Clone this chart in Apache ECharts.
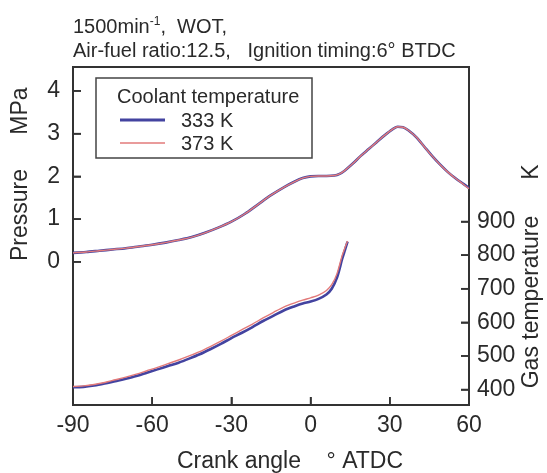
<!DOCTYPE html>
<html>
<head>
<meta charset="utf-8">
<script src="https://cdn.jsdelivr.net/npm/echarts@6/dist/echarts.min.js"></script>
<style>html,body{margin:0;padding:0;background:#fff;}#c{width:547px;height:473px;}</style>
</head>
<body>
<div id="c"></div>
<script>
// Crank angle (deg ATDC) for pressure curves
const pAngles = [-90,-85,-80,-75,-70,-65,-60,-55,-50,-45,-40,-35,-30,-25,-20,-15,-10,-6,-3,0,3,6,9,11,13,16,19,22,25,28,31,33,35,37,40,43,46,49,52,55,58,60];
// Pressure, MPa
const p333 = [0.21,0.23,0.26,0.29,0.32,0.36,0.40,0.45,0.51,0.58,0.68,0.80,0.94,1.12,1.34,1.56,1.75,1.88,1.96,2.00,2.01,2.01,2.02,2.06,2.14,2.30,2.48,2.64,2.80,2.96,3.10,3.16,3.15,3.08,2.92,2.70,2.48,2.28,2.10,1.95,1.82,1.73];
const p373 = [0.21,0.23,0.26,0.29,0.32,0.36,0.40,0.45,0.51,0.58,0.68,0.80,0.94,1.12,1.34,1.56,1.75,1.88,1.96,2.00,2.01,2.01,2.02,2.06,2.14,2.30,2.48,2.64,2.80,2.96,3.10,3.16,3.15,3.08,2.92,2.70,2.48,2.28,2.10,1.95,1.81,1.71];
// Crank angle for gas temperature curves
const tAngles = [-90,-86,-82,-78,-74,-70,-66,-62,-58,-54,-50,-46,-42,-38,-34,-30,-26,-22,-18,-14,-10,-6,-3,0,3,6,8,10,12,13,14];
// Gas temperature, K
const t333 = [407,408,412,418,425,432,440,450,460,470,480,492,505,520,536,553,569,586,604,620,636,648,656,662,670,683,700,733,790,815,840];
const t373 = [409,411,415,421,429,437,446,456,466,477,488,500,513,528,544,561,578,595,613,630,646,658,666,673,681,695,712,745,800,822,842];
// Tick labels
const xTicks = [-90,-60,-30,0,30,60];
const pTicks = [0,1,2,3,4];
const tTicks = [400,500,600,700,800,900];
// Axis ranges
const xRange = [-90, 60];
const pRange = [-3.35, 4.56];
const tRange = [354, 1360];

const FONT = 'Liberation Sans, Arial, sans-serif';
const TXT = '#2a2a2a';
const BLUE = '#4343a0';
const PINK = '#e27a7a';
const AX = '#333333';
const TICK = 8;

const pair = (xs, ys) => xs.map((x, i) => [x, ys[i]]);

function tickSeries(yAxisIndex, data, dx, dy) {
  return {
    type: 'custom', yAxisIndex: yAxisIndex, silent: true, clip: false, z: 5,
    data: data,
    renderItem: function (params, api) {
      const p = api.coord([api.value(0), api.value(1)]);
      return { type: 'line', shape: { x1: p[0], y1: p[1], x2: p[0] + dx, y2: p[1] + dy }, style: { stroke: AX, lineWidth: 1.6 } };
    }
  };
}

const chart = echarts.init(document.getElementById('c'));
chart.setOption({
  animation: false,
  title: {
    text: '1500min{sup|-1},  WOT,\nAir-fuel ratio:12.5,   Ignition timing:6° BTDC',
    left: 68, top: 10,
    textStyle: {
      fontFamily: FONT, fontSize: 20, fontWeight: 'normal', color: TXT, lineHeight: 24,
      rich: { sup: { fontFamily: FONT, fontSize: 12, color: TXT, padding: [0, 0, 10, 0] } }
    }
  },
  grid: { left: 73, right: 78, top: 67, bottom: 68, show: true, borderColor: AX, borderWidth: 2 },
  xAxis: {
    type: 'value', min: xRange[0], max: xRange[1], interval: 30,
    axisLine: { onZero: false, lineStyle: { color: AX, width: 2 } },
    axisTick: { show: true, inside: true, length: TICK, lineStyle: { color: AX, width: 1.6 } },
    axisLabel: { fontFamily: FONT, fontSize: 23, color: TXT, margin: 9 },
    splitLine: { show: false }
  },
  yAxis: [
    {
      type: 'value', min: pRange[0], max: pRange[1], position: 'left',
      axisLine: { show: true, onZero: false, lineStyle: { color: AX, width: 2 } },
      axisTick: { show: true, inside: true, length: TICK, customValues: pTicks, lineStyle: { color: AX, width: 1.6 } },
      axisLabel: { fontFamily: FONT, fontSize: 23, color: TXT, margin: 13, customValues: pTicks },
      splitLine: { show: false }
    },
    {
      type: 'value', min: tRange[0], max: tRange[1], position: 'right',
      axisLine: { show: true, onZero: false, lineStyle: { color: AX, width: 2 } },
      axisTick: { show: true, inside: true, length: TICK, customValues: tTicks, lineStyle: { color: AX, width: 1.6 } },
      axisLabel: { fontFamily: FONT, fontSize: 23, color: TXT, margin: 8, customValues: tTicks },
      splitLine: { show: false }
    }
  ],
  series: [
    { name: '333 K', type: 'line', yAxisIndex: 0, data: pair(pAngles, p333), symbol: 'none', smooth: 0.3, lineStyle: { color: BLUE, width: 2.6 } },
    { name: '333 K', type: 'line', yAxisIndex: 1, data: pair(tAngles, t333), symbol: 'none', smooth: 0.3, lineStyle: { color: BLUE, width: 2.6 } },
    { name: '373 K', type: 'line', yAxisIndex: 0, data: pair(pAngles, p373), symbol: 'none', smooth: 0.3, lineStyle: { color: PINK, width: 1.4 } },
    { name: '373 K', type: 'line', yAxisIndex: 1, data: pair(tAngles, t373), symbol: 'none', smooth: 0.3, lineStyle: { color: PINK, width: 1.4 } },
    tickSeries(0, xTicks.map(v => [v, pRange[0]]), 0, -TICK),
    tickSeries(0, pTicks.map(v => [xRange[0], v]), TICK, 0),
    tickSeries(1, tTicks.map(v => [xRange[1], v]), -TICK, 0)
  ],
  graphic: [
    { type: 'rect', shape: { x: 96, y: 78, width: 216, height: 80 }, style: { fill: '#fff', stroke: '#444', lineWidth: 1.5 }, z: 100 },
    { type: 'text', x: 117, y: 97, style: { text: 'Coolant temperature', font: '20px ' + FONT, fill: TXT, textVerticalAlign: 'middle' }, z: 101 },
    { type: 'line', shape: { x1: 120, y1: 120, x2: 165, y2: 120 }, style: { stroke: BLUE, lineWidth: 3 }, z: 101 },
    { type: 'text', x: 181, y: 121, style: { text: '333 K', font: '20px ' + FONT, fill: TXT, textVerticalAlign: 'middle' }, z: 101 },
    { type: 'line', shape: { x1: 120, y1: 143, x2: 165, y2: 143 }, style: { stroke: PINK, lineWidth: 1.5 }, z: 101 },
    { type: 'text', x: 181, y: 144, style: { text: '373 K', font: '20px ' + FONT, fill: TXT, textVerticalAlign: 'middle' }, z: 101 },
    { type: 'text', x: 21, y: 215, rotation: Math.PI / 2, style: { text: 'Pressure', font: '23px ' + FONT, fill: TXT, textAlign: 'center', textVerticalAlign: 'middle' } },
    { type: 'text', x: 21, y: 111, rotation: Math.PI / 2, style: { text: 'MPa', font: '23px ' + FONT, fill: TXT, textAlign: 'center', textVerticalAlign: 'middle' } },
    { type: 'text', x: 532, y: 302, rotation: Math.PI / 2, style: { text: 'Gas temperature', font: '23px ' + FONT, fill: TXT, textAlign: 'center', textVerticalAlign: 'middle' } },
    { type: 'text', x: 532, y: 172, rotation: Math.PI / 2, style: { text: 'K', font: '23px ' + FONT, fill: TXT, textAlign: 'center', textVerticalAlign: 'middle' } },
    { type: 'text', x: 177, y: 462, style: { text: 'Crank angle    ° ATDC', font: '23px ' + FONT, fill: TXT, textVerticalAlign: 'middle' } }
  ]
});
</script>
</body>
</html>
